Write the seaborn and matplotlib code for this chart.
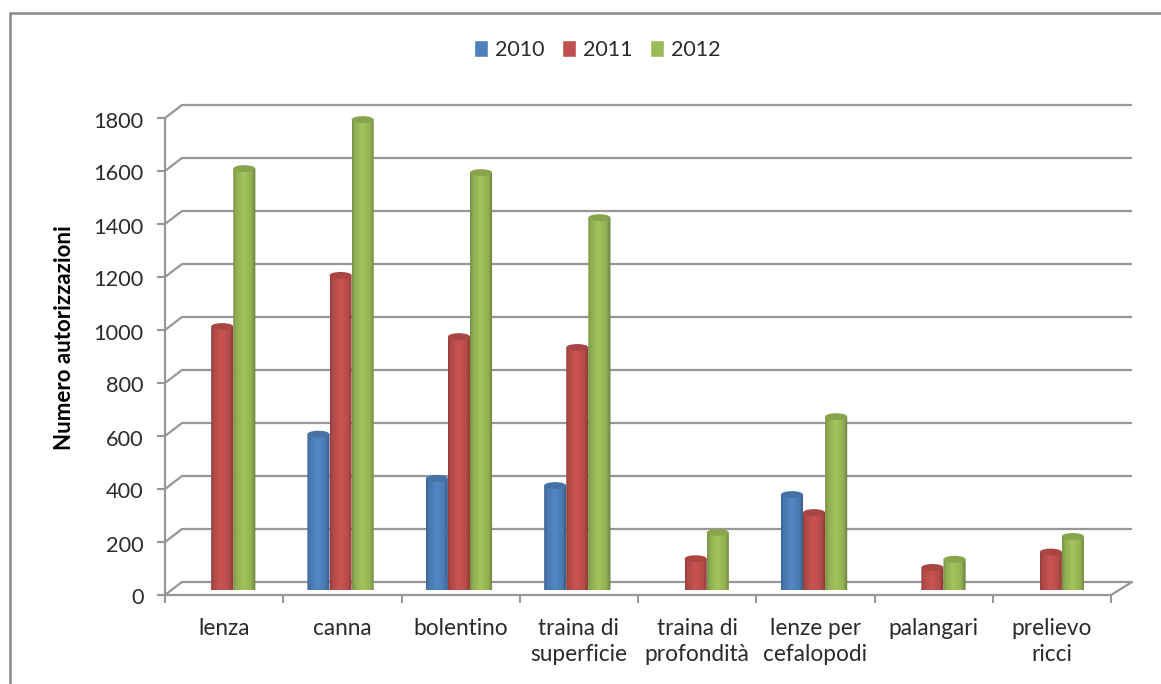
import numpy as np
import pandas as pd
import matplotlib
matplotlib.use("Agg")
import matplotlib.pyplot as plt
import matplotlib.transforms as mtrans
from matplotlib.lines import Line2D
from matplotlib.patches import Ellipse, PathPatch
from matplotlib.path import Path
import seaborn as sns

# data
categories = ["lenza", "canna", "bolentino", "traina di\nsuperficie", "traina di\nprofondità",
              "lenze per\ncefalopodi", "palangari", "prelievo\nricci"]
years = ["2010", "2011", "2012"]
v2010 = [np.nan, 590, 423, 396, np.nan, 362, np.nan, np.nan]
v2011 = [996, 1189, 958, 917, 120, 294, 87, 145]
v2012 = [1592, 1777, 1577, 1407, 219, 656, 118, 204]
colors = {"2010": "#4F81BD", "2011": "#C0504D", "2012": "#9BBB59"}
y_ticks = [0, 200, 400, 600, 800, 1000, 1200, 1400, 1600, 1800]

df = pd.DataFrame({"categoria": categories, "2010": v2010, "2011": v2011, "2012": v2012})
df = df.melt(id_vars="categoria", var_name="anno", value_name="n")

sns.set_theme(style="white")
plt.rcParams["font.family"] = ["Lato", "DejaVu Sans"]

W, H = 1161, 684
GRAY = "#979797"
TEXT = "#2b2b2b"
DX, DY = 17, 13   # depth of the fake 3d box, pixels
fig = plt.figure(figsize=(W / 100, H / 100), dpi=100, facecolor="white")


def box(left, bottom_y, right, top_y):
    return [left / W, (H - bottom_y) / H, (right - left) / W, (bottom_y - top_y) / H]


# frame axes: walls, grid, ticks and labels
ax = fig.add_axes(box(165, 595, 1111, 118))
ax.set_xlim(-0.5, 7.5)
ax.set_ylim(0, 1800)
ax.set_xticks(range(len(categories)), categories)
ax.set_xticks(np.arange(-0.5, 8), minor=True)
ax.set_yticks(y_ticks)
ax.tick_params(axis="x", which="major", length=0, pad=16.5, labelsize=16.3, labelcolor=TEXT)
ax.tick_params(axis="x", which="minor", length=5.5, width=1.5, color=GRAY, bottom=True)
ax.tick_params(axis="y", length=6, width=1.5, color=GRAY, pad=9.5, labelsize=15.7, labelcolor=TEXT, left=True)
for lab in ax.get_xticklabels():
    lab.set_linespacing(1.3)
# year labels sit a touch lower than their ticks
nudge = mtrans.ScaledTranslation(0, -1.5 / 100, fig.dpi_scale_trans)
for lab in ax.get_yticklabels():
    lab.set_transform(lab.get_transform() + nudge)
for s in ["top", "right"]:
    ax.spines[s].set_visible(False)
for s in ["left", "bottom"]:
    ax.spines[s].set_color(GRAY)
    ax.spines[s].set_linewidth(1.6)
ax.set_ylabel("Numero autorizzazioni", fontsize=16, fontweight="bold", color="black", labelpad=13, y=0.54)

# back wall lines and the small diagonals that join them to the front
back = ax.transData + mtrans.ScaledTranslation(DX / 100, DY / 100, fig.dpi_scale_trans)
for t in y_ticks:
    ax.plot([-0.5, 7.53], [t, t], color=GRAY, lw=1.6, transform=back, clip_on=False, solid_capstyle="butt")
    x0, y0 = ax.transData.transform((-0.5, t))
    fig.add_artist(Line2D([x0, x0 + DX], [y0, y0 + DY], color=GRAY, lw=1.6, transform=mtrans.IdentityTransform()))
x1, y1 = ax.transData.transform((7.5, 0))
fig.add_artist(Line2D([x1, x1 + DX + 4], [y1, y1 + DY], color=GRAY, lw=1.6, transform=mtrans.IdentityTransform()))

# bars sit a bit inside the box, so they get their own transparent axes
bar_ax = fig.add_axes(box(163, 590.5, 1110, 113.5), facecolor="none")
sns.barplot(data=df, x="categoria", y="n", hue="anno", hue_order=years, palette=colors, saturation=1,
            width=0.56, gap=0, order=categories, ax=bar_ax)
bar_ax.set_xlim(-0.5, 7.5)
bar_ax.set_ylim(0, 1800)
bar_ax.axis("off")

# turn each flat bar into a shaded cylinder
shade_x = [0, 0.12, 0.45, 0.8, 1]
shade_v = [0.78, 0.92, 1.05, 0.95, 0.68]
cap_h = 26   # data units
for k, cont in enumerate(bar_ax.containers):
    for bar in cont:
        h = bar.get_height()
        if not np.isfinite(h) or h <= 0:
            continue
        x, w = bar.get_x(), bar.get_width()
        base = np.array(matplotlib.colors.to_rgb(bar.get_facecolor()))
        u = np.linspace(0, 1, 40)
        grad = np.clip(base[None, :] * np.interp(u, shade_x, shade_v)[:, None], 0, 1)[None, :, :]
        im = bar_ax.imshow(grad, extent=[x, x + w, -cap_h, h], aspect="auto", interpolation="bilinear",
                           zorder=3 + k, clip_on=True)
        a = np.linspace(np.pi, 2 * np.pi, 24)
        low = np.c_[x + w / 2 + w / 2 * np.cos(a), cap_h / 2 * np.sin(a)]
        verts = np.vstack([[[x, h]], low, [[x + w, h]], [[x, h]]])
        clip = PathPatch(Path(verts), transform=bar_ax.transData, fc="none", ec="none")
        bar_ax.add_patch(clip)
        im.set_clip_path(clip)
        bar_ax.add_patch(Ellipse((x + w / 2, h), w, cap_h, fc=base * 0.88, ec="none",
                                 zorder=3 + k, clip_on=False))
        bar.set_visible(False)
bar_ax.set_xlim(-0.5, 7.5)
bar_ax.set_ylim(0, 1800)

sns.move_legend(bar_ax, "center", bbox_to_anchor=(597 / W, 1 - 50 / H), bbox_transform=fig.transFigure,
                ncol=3, frameon=False, title=None, fontsize=15.5, handlelength=0.65, handleheight=0.85,
                handletextpad=0.33, columnspacing=0.8, labelcolor=TEXT)

# picture frame: only the top and left edges show, the rest is cropped away
frame_kw = dict(color="#8a8a8a", lw=1.8, transform=fig.transFigure)
fig.add_artist(Line2D([9.5 / W, 1], [1 - 12.5 / H, 1 - 12.5 / H], **frame_kw))
fig.add_artist(Line2D([9.5 / W, 9.5 / W], [0, 1 - 12.5 / H], **frame_kw))

fig.savefig("out.png", dpi=100)
